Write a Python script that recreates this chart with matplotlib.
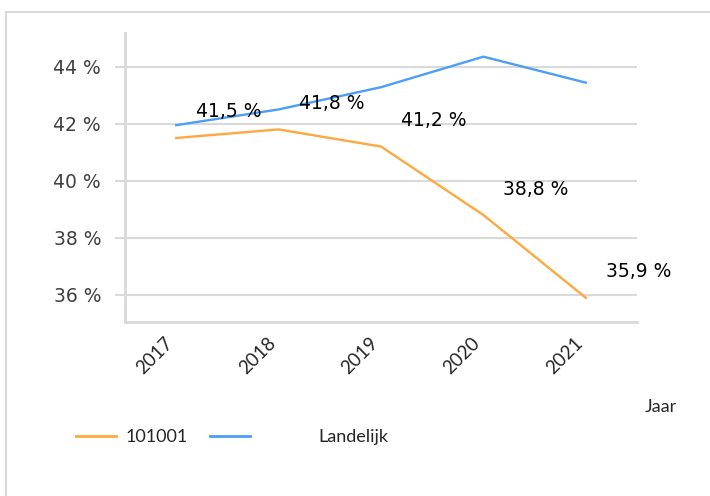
import matplotlib
matplotlib.use("Agg")
import matplotlib.pyplot as plt
from matplotlib.patches import Rectangle
from matplotlib.ticker import FuncFormatter
from matplotlib.transforms import ScaledTranslation

years = ["2017", "2018", "2019", "2020", "2021"]
school = [41.5, 41.8, 41.2, 38.8, 35.9]
landelijk = [41.95, 42.5, 43.28, 44.35, 43.44]
yticks = [36, 38, 40, 42, 44]

ORANGE = "#FFA83F"
BLUE = "#4A9FF5"
GRID = "#D9D9D9"

W, H = 710, 496
fig = plt.figure(figsize=(W / 100, H / 100), dpi=100)
ax = fig.add_axes([125 / W, 1 - 322 / H, (637 - 125) / W, (322 - 33) / H])

x = list(range(len(years)))
l1, = ax.plot(x, school, color=ORANGE, lw=1.7, label="101001", zorder=3)
l2, = ax.plot(x, landelijk, color=BLUE, lw=1.7, label="Landelijk", zorder=3)

for xi, v in zip(x, school):
    ax.annotate(f"{v:.1f} %".replace(".", ","), (xi, v), xytext=(20, 26),
                textcoords="offset pixels", ha="left", va="center",
                fontsize=13.5, family="DejaVu Sans", color="black", zorder=4)

ax.set_xlim(-0.5, len(years) - 0.5)
ax.set_ylim(35.05, 45.18)
ax.set_yticks(yticks)
ax.yaxis.set_major_formatter(FuncFormatter(lambda v, p: f"{v:.0f} %"))
ax.set_xticks(x)
ax.grid(axis="y", color=GRID, lw=1.5)
ax.set_axisbelow(True)
for s in ["top", "right"]:
    ax.spines[s].set_visible(False)
for s in ["left", "bottom"]:
    ax.spines[s].set_color(GRID)
    ax.spines[s].set_linewidth(2)
ax.tick_params(axis="y", length=7.2, width=1.5, color=GRID, pad=10,
               labelsize=13.5, labelcolor="#404040")
ax.tick_params(axis="x", length=0, pad=13)
for t in ax.get_yticklabels():
    t.set_family("DejaVu Sans")
ax.set_xticklabels(years, rotation=45, ha="right", va="center", rotation_mode="anchor",
                   family="Lato", fontsize=13.5, color="#262626")
shift = ScaledTranslation(-6 / 100, 0, fig.dpi_scale_trans)
for t in ax.get_xticklabels():
    t.set_transform(t.get_transform() + shift)

ax.set_xlabel("Jaar", family="Lato", fontsize=13, color="#262626", ha="left", va="center")
ax.xaxis.set_label_coords((645 - 125) / 512, (322 - 407) / 289)

leg1 = fig.legend(handles=[l1], loc="center left", bbox_to_anchor=(76 / W, 1 - 437 / H),
                  frameon=False, borderpad=0, borderaxespad=0, handlelength=2.2,
                  handletextpad=0.55, prop={"family": "Lato", "size": 13})
leg2 = fig.legend(handles=[l2], loc="center left", bbox_to_anchor=(210 / W, 1 - 437 / H),
                  frameon=False, borderpad=0, borderaxespad=0, handlelength=2.2,
                  handletextpad=3.8, prop={"family": "Lato", "size": 13})
for lg in (leg1, leg2):
    for t in lg.get_texts():
        t.set_color("#262626")
    for h in lg.legend_handles:
        h.set_linewidth(2)

fig.add_artist(Rectangle((6 / W, -0.1), 1.2, 1.1 - 12 / H, transform=fig.transFigure,
                         fill=False, edgecolor=GRID, lw=1.5))

fig.savefig("out.png", dpi=100)
